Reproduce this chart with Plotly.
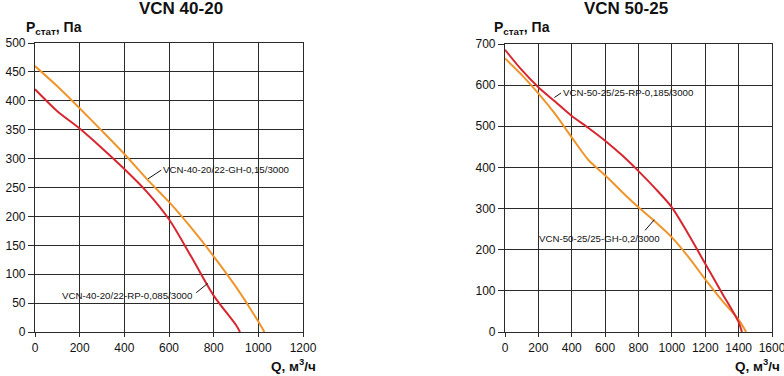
import plotly.graph_objects as go

W, H = 784, 376

# ---------- data ----------
q_4020_gh = [0, 100, 200, 300, 400, 500, 600, 700, 800, 900, 1000, 1027]
p_4020_gh = [460, 425, 387, 348, 308, 265, 225, 180, 131, 78, 18, 0]
q_4020_rp = [0, 100, 200, 300, 400, 500, 600, 700, 800, 900, 918]
p_4020_rp = [420, 382, 352, 318, 282, 243, 195, 130, 63, 12, 0]

q_5025_rp = [0, 100, 200, 300, 400, 500, 600, 700, 800, 900, 1000, 1100, 1200, 1300, 1400, 1420]
p_5025_rp = [686, 637, 595, 560, 525, 496, 465, 430, 391, 349, 303, 237, 166, 95, 24, 0]
q_5025_gh = [0, 100, 200, 300, 400, 500, 600, 700, 800, 900, 1000, 1100, 1200, 1300, 1400, 1445]
p_5025_gh = [665, 625, 580, 530, 473, 418, 381, 341, 303, 268, 230, 182, 128, 77, 30, 0]

names = ["VCN-40-20/22-GH-0,15/3000", "VCN-40-20/22-RP-0,085/3000",
         "VCN-50-25/25-RP-0,185/3000", "VCN-50-25/25-GH-0,2/3000"]
titles = ["VCN 40-20", "VCN 50-25"]

RED = "#d8262f"
ORANGE = "#f0952c"
GRID = "#2a2a2a"
FONT = "Liberation Sans, Arial, sans-serif"

fig = go.Figure()
fig.add_trace(go.Scatter(x=q_4020_gh, y=p_4020_gh, mode="lines", line=dict(color=ORANGE, width=2, shape="spline", smoothing=0.8), xaxis="x", yaxis="y"))
fig.add_trace(go.Scatter(x=q_4020_rp, y=p_4020_rp, mode="lines", line=dict(color=RED, width=2, shape="spline", smoothing=0.8), xaxis="x", yaxis="y"))
fig.add_trace(go.Scatter(x=q_5025_gh, y=p_5025_gh, mode="lines", line=dict(color=ORANGE, width=2, shape="spline", smoothing=0.8), xaxis="x2", yaxis="y2"))
fig.add_trace(go.Scatter(x=q_5025_rp, y=p_5025_rp, mode="lines", line=dict(color=RED, width=2, shape="spline", smoothing=0.8), xaxis="x2", yaxis="y2"))

def px_x(p):
    return p / W

def px_y(p):
    return 1 - p / H

axis_common = dict(showgrid=True, gridcolor=GRID, gridwidth=1.2, showline=True, mirror=True,
                   linecolor=GRID, linewidth=1.2, ticks="outside", tickcolor=GRID,
                   zeroline=False, automargin=False, ticklabeloverflow="allow",
                   tickfont=dict(family=FONT, size=12, color="#111"), fixedrange=True)

fig.update_layout(
    width=W, height=H, margin=dict(l=0, r=0, t=0, b=0, autoexpand=False),
    paper_bgcolor="white", plot_bgcolor="white", showlegend=False,
    xaxis=dict(domain=[px_x(35), px_x(303)], range=[0, 1200], dtick=200, anchor="y", ticklen=4, **axis_common),
    yaxis=dict(domain=[px_y(332), px_y(43)], range=[0, 500], dtick=50, anchor="x", ticklen=6, **axis_common),
    xaxis2=dict(domain=[px_x(505), px_x(772)], range=[0, 1600], dtick=200, anchor="y2", ticklen=4, **axis_common),
    yaxis2=dict(domain=[px_y(332), px_y(44)], range=[0, 700], dtick=100, anchor="x2", ticklen=6, **axis_common),
)

ann = []
# titles
ann.append(dict(text="<b>" + titles[0] + "</b>", x=px_x(181), y=px_y(9), xref="paper", yref="paper",
                showarrow=False, font=dict(family=FONT, size=17, color="#111"), xanchor="center", yanchor="middle"))
ann.append(dict(text="<b>" + titles[1] + "</b>", x=px_x(626), y=px_y(9), xref="paper", yref="paper",
                showarrow=False, font=dict(family=FONT, size=17, color="#111"), xanchor="center", yanchor="middle"))
# axis titles
for xl, xr in [(24, 318), (492, 782)]:
    ann.append(dict(text="<b>P<sub>стат</sub>, Па</b>", x=px_x(xl), y=px_y(28), xref="paper", yref="paper",
                    showarrow=False, font=dict(family=FONT, size=14, color="#111"), xanchor="left", yanchor="middle"))
    ann.append(dict(text="<b>Q, м<sup>3</sup>/ч</b>", x=px_x(xr), y=px_y(365), xref="paper", yref="paper",
                    showarrow=False, font=dict(family=FONT, size=13.5, color="#111"), xanchor="right", yanchor="middle"))

lab_font = dict(family=FONT, size=9.7, color="#111")
ann.append(dict(text=names[0], x=566, y=282, xref="x", yref="y", showarrow=False, font=lab_font,
                xanchor="left", yanchor="middle"))
ann.append(dict(text=names[1], x=718, y=64, xref="x", yref="y", showarrow=False, font=lab_font,
                xanchor="right", yanchor="middle"))
ann.append(dict(text=names[2], x=337, y=581, xref="x2", yref="y2", showarrow=False, font=lab_font,
                xanchor="left", yanchor="middle"))
ann.append(dict(text=names[3], x=192, y=228, xref="x2", yref="y2", showarrow=False, font=lab_font,
                xanchor="left", yanchor="middle"))
fig.update_layout(annotations=ann)

lc = dict(color="#111", width=1)
fig.add_shape(type="line", xref="x", yref="y", x0=506, y0=265, x1=565, y1=280, line=lc)
fig.add_shape(type="line", xref="x", yref="y", x0=722, y0=68, x1=773, y1=84, line=lc)
fig.add_shape(type="line", xref="x2", yref="y2", x0=296, y0=570, x1=336, y1=581, line=lc)
fig.add_shape(type="line", xref="x2", yref="y2", x0=839, y0=247, x1=895, y1=273, line=lc)

fig.write_html("out.html", config={"displayModeBar": False},
               post_script="document.body.style.margin='0px';")
